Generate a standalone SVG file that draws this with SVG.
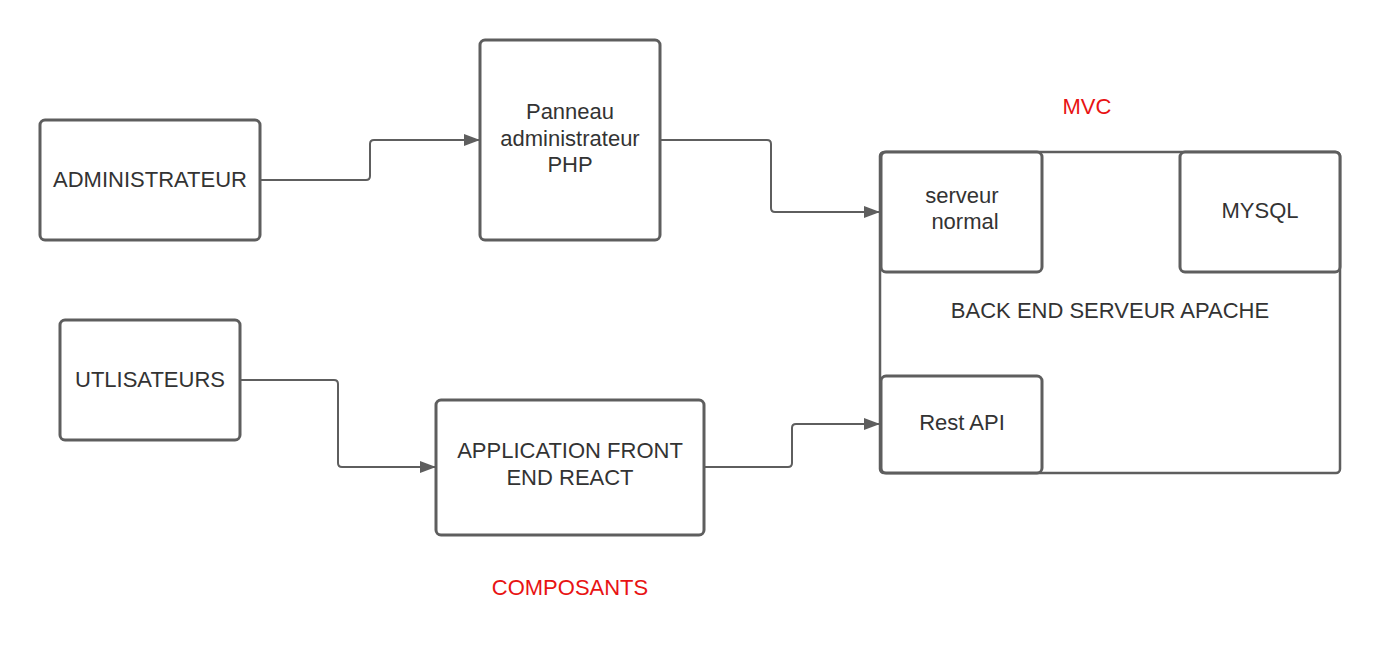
<svg xmlns="http://www.w3.org/2000/svg" width="1380" height="660" viewBox="0 0 1380 660">
<defs>
<marker id="arr" markerWidth="16" markerHeight="12" refX="15" refY="6" orient="auto" markerUnits="userSpaceOnUse">
<path d="M0,0 L16,6 L0,12 Z" fill="#5e5e5e"/>
</marker>
</defs>
<style>
.box{fill:#fff;stroke:#5e5e5e;stroke-width:3}
.outer{fill:#fff;stroke:#5e5e5e;stroke-width:2.5}
.t{font-family:"Liberation Sans",Arial,sans-serif;font-size:22px;fill:#333;text-anchor:middle}
.red{fill:#e81313}
.c{fill:none;stroke:#5e5e5e;stroke-width:2;stroke-linejoin:round}
</style>
<rect width="1380" height="660" fill="#fff"/>
<g id="backend">
<rect class="outer" x="880" y="152" width="460" height="321" rx="4"/>
<text class="t" x="1110" y="318">BACK END SERVEUR APACHE</text>
</g>
<g id="serveur">
<rect class="box" x="881" y="152" width="161" height="120" rx="5"/>
<text class="t" x="962" y="203">serveur</text>
<text class="t" x="965" y="229">normal</text>
</g>
<g id="mysql">
<rect class="box" x="1180" y="152" width="160" height="120" rx="5"/>
<text class="t" x="1260" y="218">MYSQL</text>
</g>
<g id="restapi">
<rect class="box" x="881" y="376" width="161" height="97" rx="5"/>
<text class="t" x="962" y="430">Rest API</text>
</g>
<g id="admin">
<rect class="box" x="40" y="120" width="220" height="120" rx="5"/>
<text class="t" x="150" y="187">ADMINISTRATEUR</text>
</g>
<g id="panneau">
<rect class="box" x="480" y="40" width="180" height="200" rx="5"/>
<text class="t" x="570" y="119">Panneau</text>
<text class="t" x="570" y="146">administrateur</text>
<text class="t" x="570" y="172">PHP</text>
</g>
<g id="users">
<rect class="box" x="60" y="320" width="180" height="120" rx="5"/>
<text class="t" x="150" y="387">UTLISATEURS</text>
</g>
<g id="app">
<rect class="box" x="436" y="400" width="268" height="135" rx="5"/>
<text class="t" x="570" y="458">APPLICATION FRONT</text>
<text class="t" x="570" y="485">END REACT</text>
</g>
<g id="labels">
<text class="t red" x="1087" y="114">MVC</text>
<text class="t red" x="570" y="595">COMPOSANTS</text>
</g>
<g id="connectors">
<path class="c" d="M261,180 H366 Q370,180 370,176 V144 Q370,140 374,140 H479" marker-end="url(#arr)"/>
<path class="c" d="M661,140 H767 Q771,140 771,144 V208 Q771,212 775,212 H879" marker-end="url(#arr)"/>
<path class="c" d="M241,380 H334 Q338,380 338,384 V463 Q338,467 342,467 H435" marker-end="url(#arr)"/>
<path class="c" d="M705,467 H788 Q792,467 792,463 V428 Q792,424 796,424 H879" marker-end="url(#arr)"/>
</g>
</svg>
